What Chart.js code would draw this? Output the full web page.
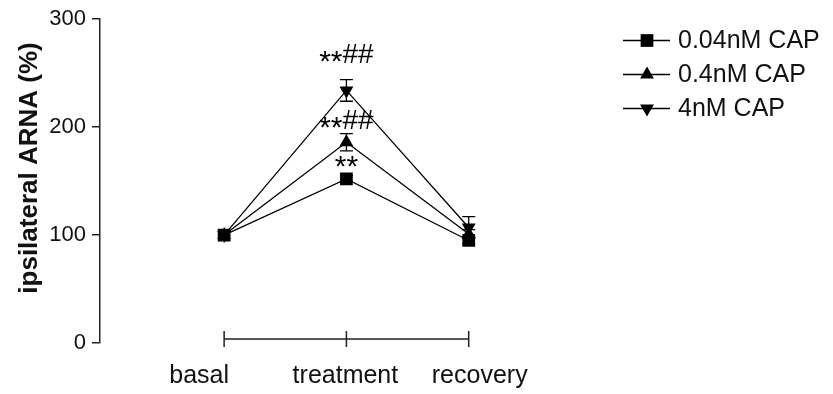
<!DOCTYPE html>
<html>
<head>
<meta charset="utf-8">
<script src="https://cdn.jsdelivr.net/npm/chart.js@4.4.1/dist/chart.umd.min.js"></script>
<style>
  html, body { margin: 0; padding: 0; background: #fff; }
  #wrap { width: 833px; height: 394px; }
</style>
</head>
<body>
<div id="wrap"><canvas id="c" width="833" height="394"></canvas></div>
<script>
// Time points and series
const categories = ['basal', 'treatment', 'recovery'];
const seriesNames = ['0.04nM CAP', '0.4nM CAP', '4nM CAP'];

// Mean ipsilateral ARNA (% of basal)
const cap004 = [100, 152, 95];
const cap04  = [100, 186, 101];
const cap4   = [100, 234, 107];

// SEM
const sem004 = [0, 3, 3];
const sem04  = [0, 8, 4];
const sem4   = [0, 10, 10];

// Significance marks
const sig004 = ['', '**', ''];
const sig04  = ['', '**##', ''];
const sig4   = ['', '**##', ''];

const yTicks = [0, 100, 200, 300];
const yTitle = 'ipsilateral ARNA (%)';

const FONT = '"Liberation Sans", Arial, Helvetica, sans-serif';

function toPoints(vals) { return vals.map((v, i) => ({ x: i, y: v })); }

function drawMarker(ctx, style, x, y, r, rot) {
  ctx.save();
  ctx.fillStyle = '#000';
  ctx.beginPath();
  if (style === 'rect') {
    const s = r * Math.SQRT1_2;
    ctx.rect(x - s, y - s, 2 * s, 2 * s);
  } else {
    let a = (rot || 0) * Math.PI / 180;
    for (let k = 0; k < 3; k++) {
      const px = x + Math.sin(a) * r, py = y - Math.cos(a) * r;
      if (k === 0) ctx.moveTo(px, py); else ctx.lineTo(px, py);
      a += 2 * Math.PI / 3;
    }
    ctx.closePath();
  }
  ctx.fill();
  ctx.restore();
}

const datasets = [
  { label: seriesNames[0], data: toPoints(cap004), sem: sem004, sig: sig004, sigGap: 8,
    pointStyle: 'rect', pointRadius: 9, pointRotation: 0 },
  { label: seriesNames[1], data: toPoints(cap04), sem: sem04, sig: sig04, sigGap: 5,
    pointStyle: 'triangle', pointRadius: 8, pointRotation: 0 },
  { label: seriesNames[2], data: toPoints(cap4), sem: sem4, sig: sig4, sigGap: 17,
    pointStyle: 'triangle', pointRadius: 8, pointRotation: 180 }
].map(d => Object.assign({
  borderColor: '#000', backgroundColor: '#000', pointBackgroundColor: '#000',
  pointBorderColor: '#000', pointBorderWidth: 0, borderWidth: 1.3, tension: 0,
  pointHoverRadius: 8
}, d));

// Error bars with caps, drawn beneath the markers
const errorBars = {
  id: 'errorBars',
  beforeDatasetsDraw(chart) {
    const { ctx, scales: { x, y } } = chart;
    ctx.save();
    ctx.strokeStyle = '#000';
    ctx.lineWidth = 1.3;
    chart.data.datasets.forEach(ds => {
      ds.data.forEach((p, i) => {
        const e = ds.sem[i];
        if (!e) return;
        const px = x.getPixelForValue(p.x);
        const yt = y.getPixelForValue(p.y + e), yb = y.getPixelForValue(p.y - e);
        ctx.beginPath();
        ctx.moveTo(px, yt); ctx.lineTo(px, yb);
        ctx.moveTo(px - 6.5, yt); ctx.lineTo(px + 6.5, yt);
        ctx.moveTo(px - 6.5, yb); ctx.lineTo(px + 6.5, yb);
        ctx.stroke();
      });
    });
    ctx.restore();
  }
};

// Significance marks above the error bars
const sigMarks = {
  id: 'sigMarks',
  afterDatasetsDraw(chart) {
    const { ctx, scales: { x, y } } = chart;
    ctx.save();
    ctx.fillStyle = '#000';
    ctx.textBaseline = 'alphabetic';
    ctx.textAlign = 'left';
    chart.data.datasets.forEach(ds => {
      ds.data.forEach((p, i) => {
        const txt = ds.sig[i];
        if (!txt) return;
        const stars = txt.replace(/#/g, ''), hashes = txt.replace(/\*/g, '');
        const px = x.getPixelForValue(p.x);
        const base = y.getPixelForValue(p.y + ds.sem[i]) - ds.sigGap;
        ctx.font = '30px ' + FONT;
        const ws = ctx.measureText(stars).width;
        ctx.font = '28px ' + FONT;
        const wh = ctx.measureText(hashes).width;
        const sx = px - (ws + wh) / 2;
        ctx.font = '30px ' + FONT;
        ctx.fillText(stars, sx, base + 8);
        ctx.font = '28px ' + FONT;
        ctx.fillText(hashes, sx + ws, base);
      });
    });
    ctx.restore();
  }
};

// Bracket-style category axis, axis title and legend
const decorations = {
  id: 'decorations',
  afterDraw(chart) {
    const { ctx, scales: { x, y } } = chart;
    ctx.save();
    ctx.strokeStyle = '#222';
    ctx.lineWidth = 1.5;
    const ay = y.getPixelForValue(0) - 4;
    const x0 = x.getPixelForValue(0), x1 = x.getPixelForValue(categories.length - 1);
    ctx.beginPath();
    ctx.moveTo(x0, ay); ctx.lineTo(x1, ay);
    categories.forEach((c, i) => {
      const px = x.getPixelForValue(i);
      ctx.moveTo(px, ay - 8); ctx.lineTo(px, ay + 8);
    });
    ctx.stroke();

    // category labels
    const shift = [-25, -1, 11];
    ctx.fillStyle = '#111';
    ctx.font = '25px ' + FONT;
    ctx.textAlign = 'center';
    ctx.textBaseline = 'alphabetic';
    categories.forEach((c, i) => {
      ctx.fillText(c, x.getPixelForValue(i) + shift[i], 383);
    });

    // y-axis title
    ctx.save();
    ctx.translate(30, 168);
    ctx.rotate(-Math.PI / 2);
    ctx.font = 'bold 26px ' + FONT;
    ctx.textAlign = 'center';
    ctx.textBaseline = 'middle';
    ctx.fillText(yTitle, 0, 0);
    ctx.restore();

    // legend
    chart.data.datasets.forEach((ds, i) => {
      const ly = 40.5 + i * 34;
      ctx.strokeStyle = '#000';
      ctx.lineWidth = 1.3;
      ctx.beginPath();
      ctx.moveTo(623, ly); ctx.lineTo(670, ly);
      ctx.stroke();
      drawMarker(ctx, ds.pointStyle, 647, ly, ds.pointRadius, ds.pointRotation);
      ctx.fillStyle = '#111';
      ctx.font = '25px ' + FONT;
      ctx.textAlign = 'left';
      ctx.textBaseline = 'middle';
      ctx.fillText(ds.label, 678, ly + 1);
    });
    ctx.restore();
  }
};

new Chart(document.getElementById('c'), {
  type: 'line',
  data: { datasets },
  plugins: [errorBars, sigMarks, decorations],
  options: {
    responsive: false,
    animation: false,
    devicePixelRatio: 1,
    layout: { padding: { left: 0, top: 16, right: 242, bottom: 51 } },
    plugins: { legend: { display: false }, tooltip: { enabled: false } },
    scales: {
      x: { type: 'linear', min: -1.015, max: 3, display: false },
      y: {
        min: 0, max: 300,
        afterBuildTicks: s => { s.ticks = yTicks.map(v => ({ value: v })); },
        afterFit: s => { s.width = 100; },
        grid: { drawOnChartArea: false, drawTicks: true, tickLength: 8, color: '#222', lineWidth: 1.5 },
        border: { display: true, color: '#222', width: 1.5 },
        ticks: { color: '#111', padding: 6, font: { family: FONT, size: 22 } }
      }
    }
  }
});
</script>
</body>
</html>
